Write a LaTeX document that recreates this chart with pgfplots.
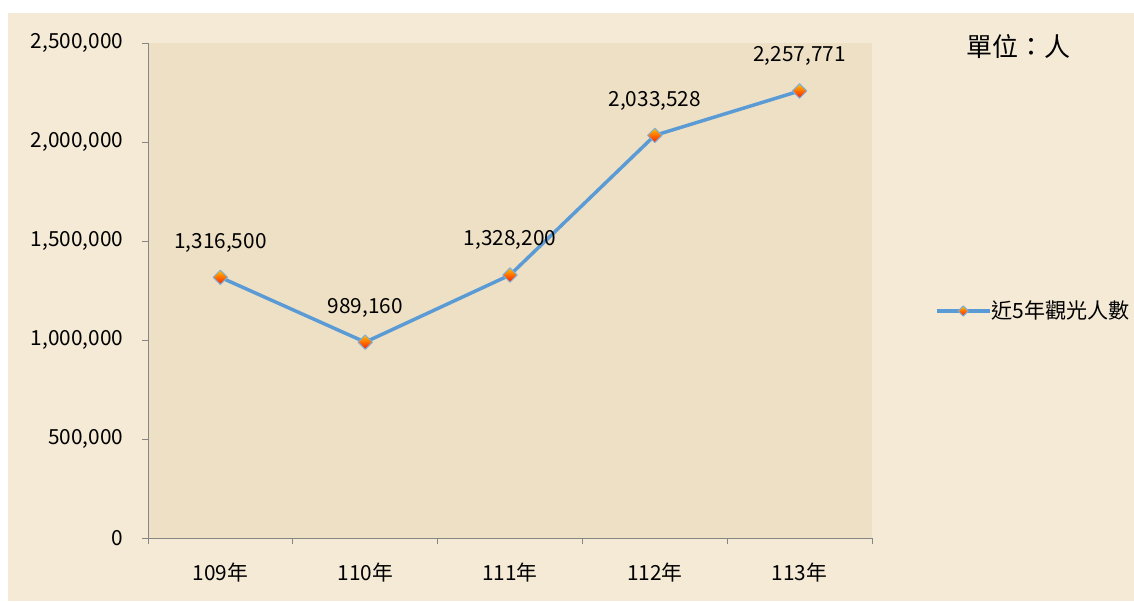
\documentclass[border=0pt]{standalone}
\usepackage{pgfplots}
\usepackage{pgfplotstable}
\pgfplotsset{compat=1.18}
\usepackage{fontspec}
\setmainfont{Noto Sans CJK TC}
\definecolor{outerbg}{HTML}{F4EAD6}
\definecolor{innerbg}{HTML}{EEE0C4}
\definecolor{lineblue}{HTML}{5B9BD5}
\definecolor{markblue}{HTML}{7EAEDC}
\definecolor{axgray}{HTML}{868686}
\definecolor{mkorange}{HTML}{FFC000}
\definecolor{mkred}{HTML}{FF1A00}
\pgfdeclareverticalshading{orangered}{100bp}{color(0bp)=(mkred); color(25bp)=(mkred); color(75bp)=(mkorange); color(100bp)=(mkorange)}
\pgfdeclareplotmark{gdiamond}{%
  \pgfpathmoveto{\pgfqpoint{0pt}{\pgfplotmarksize}}%
  \pgfpathlineto{\pgfqpoint{\pgfplotmarksize}{0pt}}%
  \pgfpathlineto{\pgfqpoint{0pt}{-\pgfplotmarksize}}%
  \pgfpathlineto{\pgfqpoint{-\pgfplotmarksize}{0pt}}%
  \pgfpathclose
  \pgfshadepath{orangered}{0}%
  \pgfusepathqstroke
}
\pgfplotstableread{
x y label
0 1316500 1,316,500
1 989160 989,160
2 1328200 1,328,200
3 2033528 2,033,528
4 2257771 2,257,771
}\datatable
\begin{document}
\begin{tikzpicture}
\useasboundingbox (0pt,0pt) rectangle (850.5pt,450.75pt);
\fill[white] (0pt,0pt) rectangle (850.5pt,450.75pt);
\fill[outerbg] (6pt,0pt) rectangle (850.5pt,441pt);
\begin{axis}[
  at={(111pt,47.25pt)}, anchor=south west,
  scale only axis, width=543pt, height=371.25pt,
  xmin=-0.5, xmax=4.5, ymin=0, ymax=2500000,
  axis background/.style={fill=innerbg},
  axis lines*=left,
  axis line style={axgray, line width=0.75pt},
  tick align=outside,
  major tick length=4.5pt, minor tick length=4.5pt,
  ytick={0,500000,1000000,1500000,2000000,2500000},
  scaled y ticks=false,
  /pgf/number format/fixed,
  /pgf/number format/1000 sep={,},
  /pgf/number format/assume math mode=true,
  ytick style={axgray, line width=0.75pt},
  xtick={0,1,2,3,4},
  xticklabels={109年,110年,111年,112年,113年},
  major x tick style={draw=none},
  minor xtick={-0.5,0.5,1.5,2.5,3.5,4.5},
  minor x tick style={axgray, line width=0.75pt},
  ticklabel style={font=\fontsize{15.6}{18}\selectfont, text=black},
  xticklabel style={yshift=-10.5pt},
  yticklabel style={xshift=-10.5pt},
  clip=false,
  legend style={at={(1.0868,0.4586)}, anchor=west, draw=none, fill=none,
    inner sep=0pt, outer sep=0pt, nodes={inner sep=0pt},
    font=\fontsize{15.8}{18}\selectfont},
  legend image code/.code={%
    \draw[mark repeat=2, mark phase=2, #1, mark size=3.8pt] plot coordinates {(0pt,0pt) (20pt,0pt) (40pt,0pt)};},
  /tikz/every even column/.append style={column sep=7pt},
]
\addplot[lineblue, line width=2.6pt, line join=round,
  mark=gdiamond, mark size=5.4pt,
  mark options={draw=markblue, line width=0.75pt},
  nodes near coords, point meta=explicit symbolic,
  nodes near coords align={anchor=center},
  every node near coord/.append style={yshift=26pt, font=\fontsize{15.6}{18}\selectfont, text=black}]
  table[x=x, y=y, meta=label] {\datatable};
\addlegendentry{近5年觀光人數}
\end{axis}
\node[font=\fontsize{19.5}{22}\selectfont, text=black] at (763.5pt,415.5pt) {單位：人};
\end{tikzpicture}
\end{document}
